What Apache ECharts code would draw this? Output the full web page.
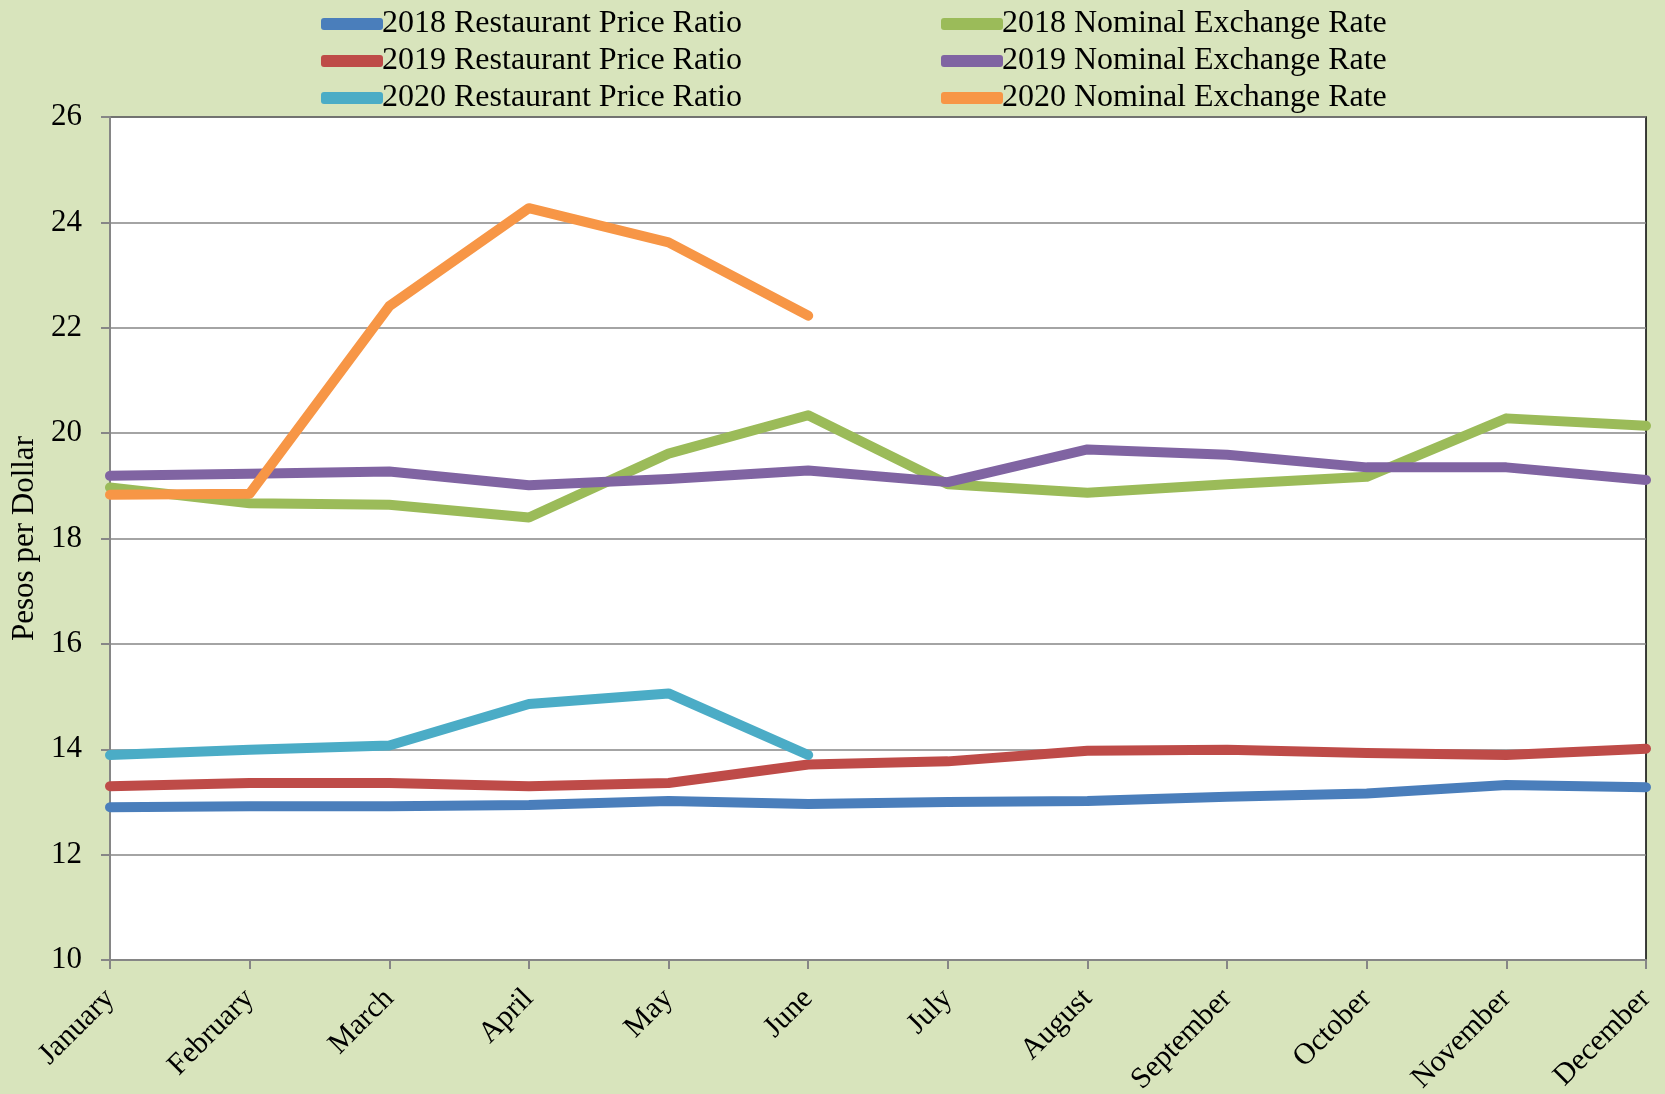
<!DOCTYPE html>
<html><head><meta charset="utf-8">
<script src="https://cdn.jsdelivr.net/npm/echarts@6/dist/echarts.min.js"></script>
<style>html,body{margin:0;padding:0;background:#D8E4BC;}#c{width:1665px;height:1094px;}</style>
</head><body><div id="c"></div>
<script>
const months = ['January','February','March','April','May','June','July','August','September','October','November','December'];
const rpr2018 = [12.90,12.92,12.92,12.94,13.02,12.96,13.00,13.02,13.10,13.16,13.32,13.28];
const rpr2019 = [13.30,13.36,13.36,13.30,13.36,13.71,13.77,13.97,13.99,13.93,13.89,14.01];
const rpr2020 = [13.89,13.99,14.07,14.86,15.06,13.89];
const ner2018 = [18.97,18.67,18.64,18.40,19.61,20.34,19.03,18.87,19.03,19.17,20.28,20.14];
const ner2019 = [19.19,19.23,19.27,19.01,19.13,19.29,19.07,19.69,19.59,19.35,19.35,19.11];
const ner2020 = [18.83,18.85,22.41,24.27,23.62,22.23];
const yTicks = {min:10, max:26, interval:2};

const names = ['2018 Restaurant Price Ratio','2019 Restaurant Price Ratio','2020 Restaurant Price Ratio',
               '2018 Nominal Exchange Rate','2019 Nominal Exchange Rate','2020 Nominal Exchange Rate'];
const colors = ['#4A7EBB','#BE4B48','#4BACC6','#9BBB59','#8064A2','#F79646'];
const datas = [rpr2018,rpr2019,rpr2020,ner2018,ner2019,ner2020];
const series = datas.map((d,i)=>({
  name:names[i], type:'line', data:d, symbol:'none', color:colors[i],
  lineStyle:{width:10,color:colors[i],cap:'round',join:'round'}, z: 2
}));
const font = {fontFamily:'"Liberation Serif","Times New Roman",serif', color:'#000'};
const legendCommon = {orient:'vertical', icon:'roundRect', itemWidth:62, itemHeight:12, itemGap:5,
  textStyle:Object.assign({fontSize:32, lineHeight:32, padding:[0,0,0,-6]},font)};
const chart = echarts.init(document.getElementById('c'));
chart.setOption({
  backgroundColor:'#D8E4BC',
  animation:false,
  legend:[
    Object.assign({left:316, top:3, data:names.slice(0,3)}, legendCommon),
    Object.assign({left:936, top:3, data:names.slice(3,6)}, legendCommon)
  ],
  grid:{left:110, right:19, top:117, bottom:134, outerBoundsMode:'none', containLabel:false,
    show:true, backgroundColor:'#fff', borderColor:'#000', borderWidth:1.5},
  xAxis:{type:'category', data:months, boundaryGap:false,
    axisLine:{lineStyle:{color:'#868686', width:2}},
    axisTick:{show:true, length:9, lineStyle:{color:'#868686', width:2}},
    axisLabel:Object.assign({rotate:45, fontSize:30, margin:34, interval:0}, font),
    splitLine:{show:false}},
  yAxis:{type:'value', min:yTicks.min, max:yTicks.max, interval:yTicks.interval,
    name:'Pesos per Dollar', nameLocation:'middle', nameGap:70, nameRotate:90,
    nameTextStyle:Object.assign({fontSize:31}, font),
    axisLine:{show:true, lineStyle:{color:'#868686', width:2}},
    axisTick:{show:true, length:9, lineStyle:{color:'#868686', width:2}},
    axisLabel:Object.assign({fontSize:31, margin:28}, font),
    splitLine:{lineStyle:{color:'#868686', width:1.5}}},
  series:series
});
</script></body></html>
